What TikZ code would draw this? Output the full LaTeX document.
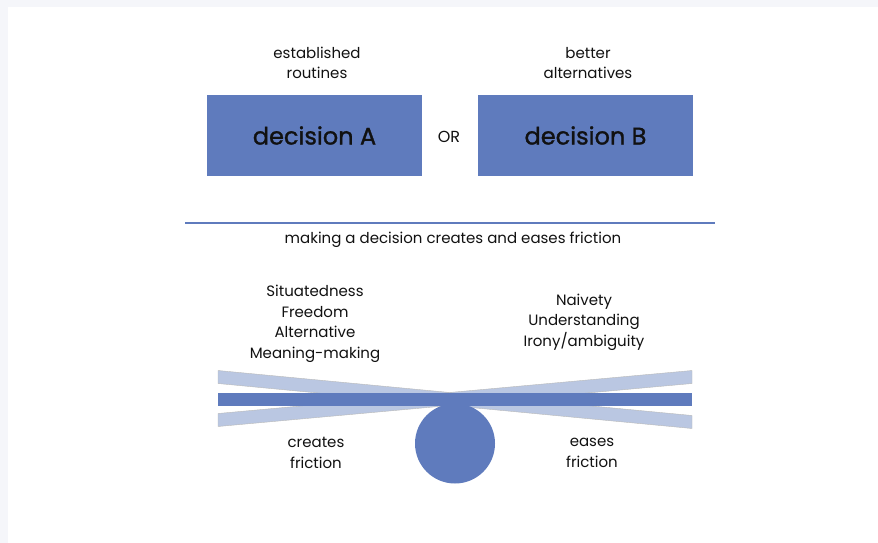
\documentclass[tikz,border=0pt]{standalone}
\usepackage{fontspec}
\setmainfont{Poppins}
\newfontfamily\medfont[FakeBold=1.2]{Poppins}
\definecolor{mainblue}{HTML}{5F7BBD}
\definecolor{lightblue}{HTML}{BAC7E2}
\definecolor{pagegray}{HTML}{F5F6FA}
\definecolor{inkcol}{HTML}{111111}
\begin{document}
\begin{tikzpicture}[x=1pt,y=-1pt,
  label/.style={text=inkcol,align=center,font=\fontsize{15}{20.5}\selectfont,inner sep=0pt},
  decbox/.style={fill=mainblue,minimum width=215pt,minimum height=81pt,inner sep=0pt,
    text=inkcol,font=\medfont\fontsize{24}{30}\selectfont},
  plank/.style={fill=lightblue,draw=gray!55,line width=0.4pt}]
  \useasboundingbox (0,0) rectangle (878,543);
  % page frame
  \fill[pagegray] (0,0) rectangle (878,543);
  \fill[white] (8,7) rectangle (878,543);

  % the two options
  \node[label] (estab) at (317,63) {established\\routines};
  \node[label] (better) at (588,63) {better\\alternatives};
  \node[decbox] (decA) at (314.5,135.5) {decision A};
  \node[decbox] (decB) at (585.5,135.5) {decision B};
  \node[label,font=\fontsize{16}{18}\selectfont] (or) at (449,137) {OR};

  % divider and caption
  \coordinate (divL) at (185,223);
  \coordinate (divR) at (715,223);
  \draw[mainblue,line width=1.8pt] (divL) -- (divR);
  \node[label] (caption) at (453,240) {making a decision creates and eases friction};

  % qualities on either side
  \node[label] (leftlist) at (315,324) {Situatedness\\Freedom\\Alternative\\Meaning-making};
  \node[label] (rightlist) at (584,322) {Naivety\\Understanding\\Irony/ambiguity};

  % seesaw: crossed planks, fulcrum and beam
  \fill[plank] (218,370.5) -- (692,415.5) -- (692,428.5) -- (218,383.5) -- cycle;
  \fill[plank] (218,413.5) -- (692,370.5) -- (692,383.5) -- (218,426.5) -- cycle;
  \node[circle,fill=mainblue,minimum size=80pt,inner sep=0pt] (fulcrum) at (455,443.5) {};
  \fill[mainblue] (218,393) rectangle (692,406);

  \node[label] (creates) at (316,453) {creates\\friction};
  \node[label] (eases) at (592,453) {eases\\friction};
\end{tikzpicture}
\end{document}
